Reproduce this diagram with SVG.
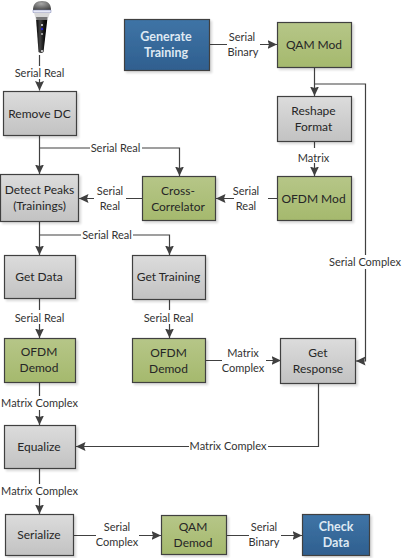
<svg xmlns="http://www.w3.org/2000/svg" width="403" height="558" viewBox="0 0 403 558">
<style>
text{font-family:Lato,"Liberation Sans",sans-serif;text-anchor:middle}
.n text{font-size:12px;fill:#262626}
.n rect{stroke:#3f3f3f;stroke-width:1.2;filter:url(#s)}
.g rect{fill:url(#gg)}.o rect{fill:url(#go)}.b rect{fill:url(#gb)}
.n.b text{fill:#dfe9f3;font-weight:700;font-size:12.500px}
.c path{fill:none;stroke:#404040;stroke-width:1.2;marker-end:url(#a)}
.l text{font-size:11px;fill:#333}
.l rect{fill:#fff}
</style>
<defs>
<linearGradient id="gg" x1="0" y1="0" x2="0" y2="1"><stop offset="0" stop-color="#dcdcdc"/><stop offset="1" stop-color="#c2c2c2"/></linearGradient>
<linearGradient id="go" x1="0" y1="0" x2="0" y2="1"><stop offset="0" stop-color="#b6c688"/><stop offset="1" stop-color="#a5b96d"/></linearGradient>
<linearGradient id="gb" x1="0" y1="0" x2="0" y2="1"><stop offset="0" stop-color="#3f74a6"/><stop offset="1" stop-color="#2f5f8f"/></linearGradient>
<linearGradient id="mb" x1="0" y1="0" x2="1" y2="0"><stop offset="0" stop-color="#000"/><stop offset=".35" stop-color="#444"/><stop offset=".7" stop-color="#111"/><stop offset="1" stop-color="#000"/></linearGradient>
<radialGradient id="mh" cx=".45" cy=".3" r=".75"><stop offset="0" stop-color="#a8a8a8"/><stop offset="1" stop-color="#454545"/></radialGradient>
<filter id="s" x="-10%" y="-10%" width="125%" height="125%"><feDropShadow dx="2" dy="2" stdDeviation="1" flood-color="#000" flood-opacity=".15"/></filter>
<marker id="a" markerUnits="userSpaceOnUse" markerWidth="11" markerHeight="11" refX="9.500" refY="5" orient="auto"><path d="M0 0.500L9.500 5L0 9.500L1.500 5Z" fill="#404040"/></marker>
</defs>
<g id="connectors" class="c">
<path d="M39.500 55V90.500"/>
<path d="M39.500 135V174"/>
<path d="M39.500 148H179.500V176"/>
<path d="M210 44.500H277"/>
<path d="M314.500 67V96"/>
<path d="M314.500 84H365.500V361H356"/>
<path d="M314.500 141V176"/>
<path d="M277 198.500H216"/>
<path d="M143 198.500H79"/>
<path d="M39.500 221V255"/>
<path d="M39.500 235H169.500V255"/>
<path d="M39.500 298V338"/>
<path d="M169.500 299V338"/>
<path d="M39.500 382V425"/>
<path d="M205 360.500H281"/>
<path d="M318.500 383V446.500H76"/>
<path d="M39.500 469V514"/>
<path d="M74 535.500H161"/>
<path d="M226 535.500H302"/>
</g>
<g id="labels" class="l">
<rect x="13" y="66" width="52" height="13"/><text x="39.500" y="77">Serial Real</text>
<rect x="90" y="141" width="52" height="14"/><text x="115.500" y="152">Serial Real</text>
<rect x="227" y="30" width="33" height="28"/><text x="242" y="41">Serial</text><text x="243" y="56">Binary</text>
<rect x="297" y="148" width="36" height="15"/><text x="313.500" y="162">Matrix</text>
<rect x="234" y="184" width="34" height="28"/><text x="246" y="195">Serial</text><text x="246" y="210">Real</text>
<rect x="94" y="184" width="32" height="28"/><text x="110" y="195">Serial</text><text x="110" y="210">Real</text>
<rect x="81" y="228" width="52" height="14"/><text x="107" y="239">Serial Real</text>
<rect x="13" y="310" width="52" height="14"/><text x="39.500" y="322">Serial Real</text>
<rect x="143" y="310" width="52" height="14"/><text x="168.500" y="322">Serial Real</text>
<rect x="328" y="255" width="75" height="14"/><text x="365" y="266">Serial Complex</text>
<rect x="222" y="346" width="44" height="28"/><text x="243" y="357">Matrix</text><text x="243" y="372">Complex</text>
<rect x="0" y="396" width="79" height="14"/><text x="39.500" y="407">Matrix Complex</text>
<rect x="189" y="439" width="79" height="14"/><text x="228" y="450">Matrix Complex</text>
<rect x="0" y="484" width="79" height="14"/><text x="39.500" y="495">Matrix Complex</text>
<rect x="96" y="521" width="43" height="28"/><text x="117" y="531">Serial</text><text x="117" y="546">Complex</text>
<rect x="249" y="521" width="32" height="28"/><text x="264" y="531">Serial</text><text x="264" y="546">Binary</text>
</g>
<g id="mic">
<path d="M36 18L38.500 52Q41 54 43.500 52L47.500 18Z" fill="url(#mb)"/>
<path d="M33 10C33 4 36 1 42 1C48 1 51 4 51 10Z" fill="url(#mh)"/>
<path d="M33 10H51V12.500H33Z" fill="#e6e9f6" stroke="#7a80b0" stroke-width=".5"/>
<path d="M34 12.800H50L47.500 20H36Z" fill="#d8d8d8"/>
<path d="M36 17H47.500L47 20H36.500Z" fill="#777"/>
<rect x="41" y="24" width="2" height="2" fill="#bbb"/><circle cx="42" cy="29" r="1.200" fill="#22c"/><rect x="41" y="33" width="2" height="2" fill="#999"/><rect x="41" y="50" width="2" height="2" fill="#bbb"/>
</g>
<g id="generate-training" class="n b"><rect x="124.500" y="19.500" width="85" height="51"/><text x="166" y="41">Generate</text><text x="166" y="57">Training</text></g>
<g id="qam-mod" class="n o"><rect x="277.500" y="22.500" width="74" height="45"/><text x="314" y="49">QAM Mod</text></g>
<g id="reshape-format" class="n g"><rect x="277.500" y="96.500" width="74" height="45"/><text x="313.500" y="115">Reshape</text><text x="313.500" y="131">Format</text></g>
<g id="ofdm-mod" class="n o"><rect x="277.500" y="176.500" width="74" height="44"/><text x="313.500" y="202.500">OFDM Mod</text></g>
<g id="remove-dc" class="n g"><rect x="3.500" y="91.500" width="73" height="44"/><text x="39.500" y="117.500">Remove DC</text></g>
<g id="detect-peaks" class="n g"><rect x="0.500" y="174.500" width="78" height="47"/><text x="39.500" y="194">Detect Peaks</text><text x="39.500" y="210">(Trainings)</text></g>
<g id="cross-correlator" class="n o"><rect x="142.500" y="176.500" width="73" height="44"/><text x="178" y="195">Cross-</text><text x="178" y="211">Correlator</text></g>
<g id="get-data" class="n g"><rect x="4.500" y="255.500" width="71" height="43"/><text x="39" y="281">Get Data</text></g>
<g id="get-training" class="n g"><rect x="132.500" y="255.500" width="73" height="44"/><text x="168.500" y="281">Get Training</text></g>
<g id="ofdm-demod-1" class="n o"><rect x="4.500" y="338.500" width="71" height="44"/><text x="39" y="356">OFDM</text><text x="39" y="372">Demod</text></g>
<g id="ofdm-demod-2" class="n o"><rect x="132.500" y="338.500" width="73" height="44"/><text x="168.500" y="357">OFDM</text><text x="168.500" y="373">Demod</text></g>
<g id="get-response" class="n g"><rect x="280.500" y="338.500" width="75" height="45"/><text x="318" y="357">Get</text><text x="318" y="373">Response</text></g>
<g id="equalize" class="n g"><rect x="4.500" y="425.500" width="71" height="43"/><text x="39" y="451">Equalize</text></g>
<g id="serialize" class="n g"><rect x="5.500" y="514.500" width="68" height="41"/><text x="39" y="539">Serialize</text></g>
<g id="qam-demod" class="n o"><rect x="161.500" y="515.500" width="65" height="39"/><text x="193" y="531">QAM</text><text x="193" y="547">Demod</text></g>
<g id="check-data" class="n b"><rect x="302.500" y="514.500" width="67" height="41"/><text x="336" y="531">Check</text><text x="336" y="547">Data</text></g>
</svg>
